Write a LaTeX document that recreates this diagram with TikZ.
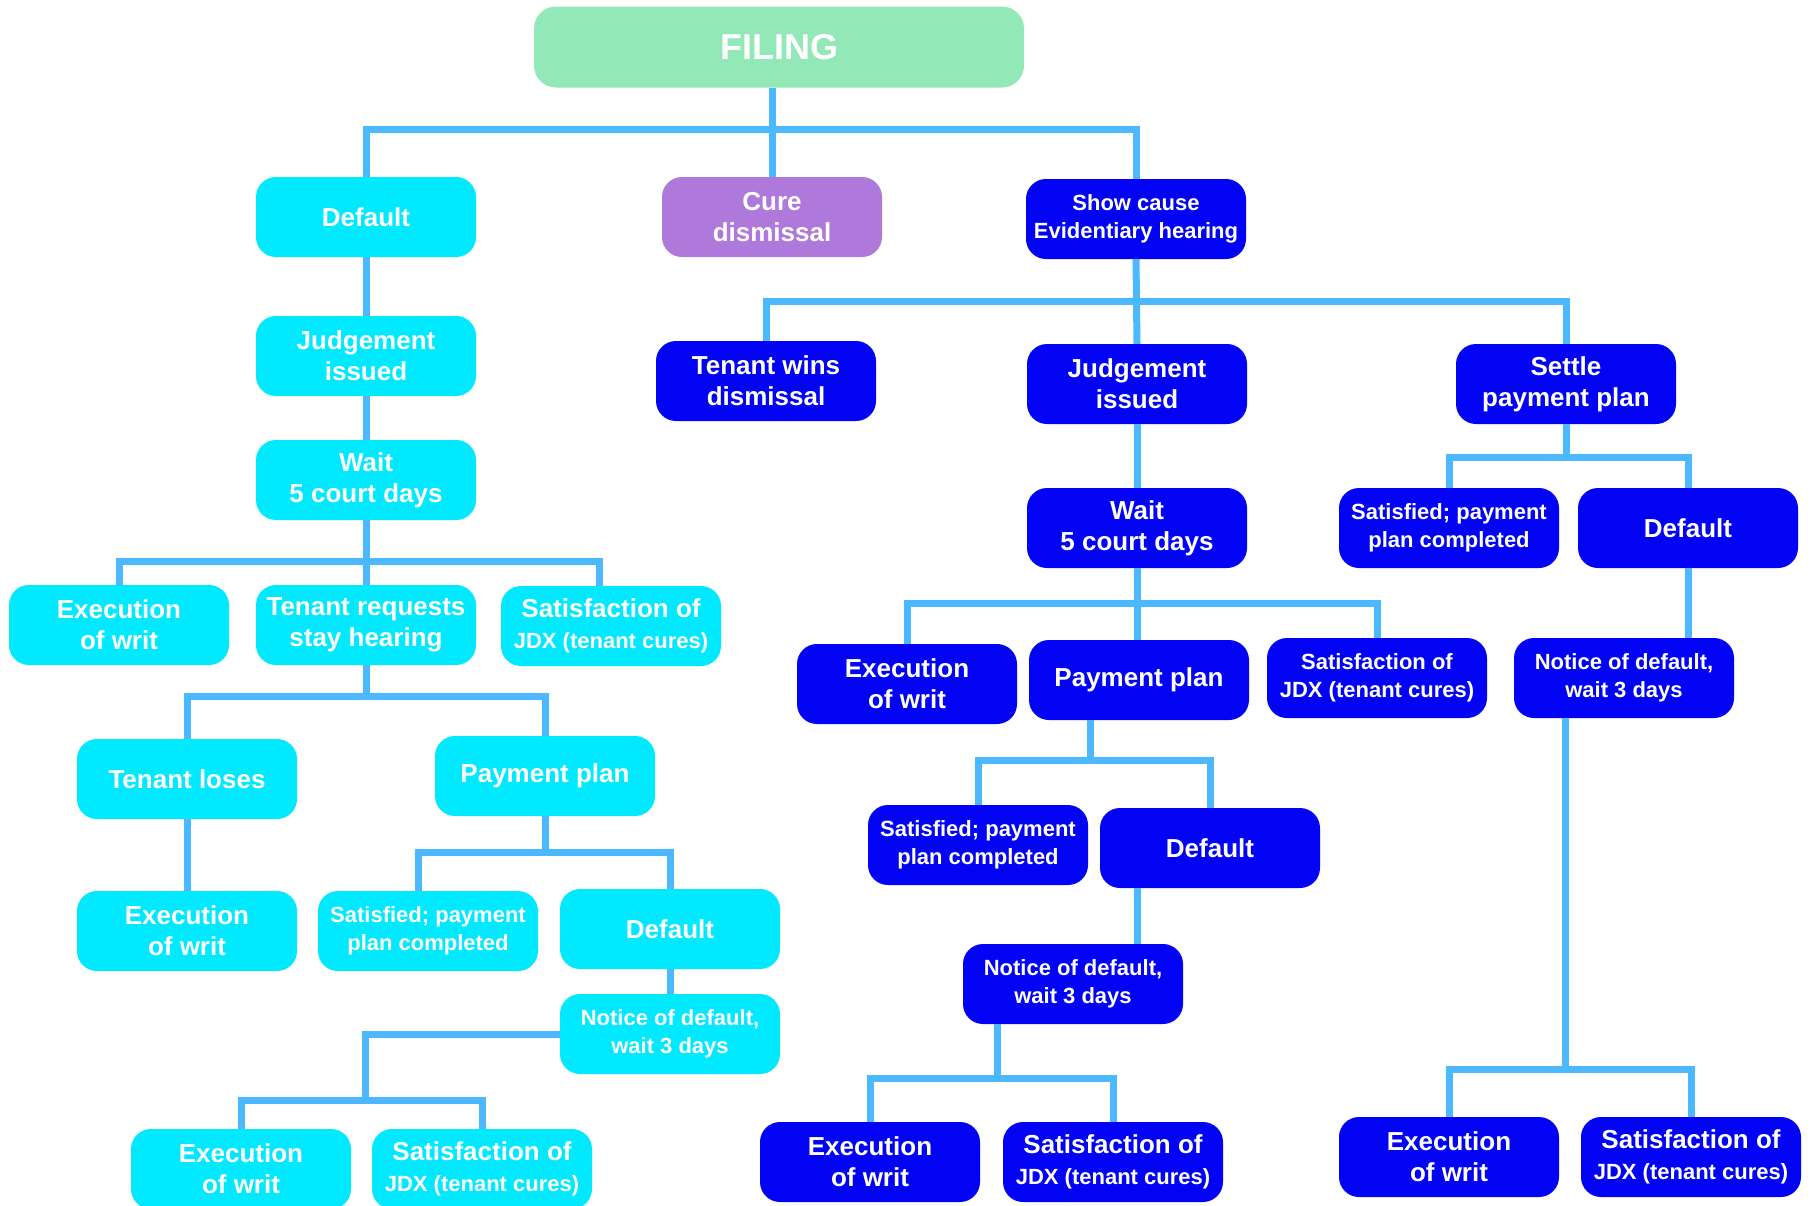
\documentclass[tikz,border=0pt]{standalone}
\usepackage{fontspec}
\setmainfont{Liberation Sans}
\definecolor{tline}{RGB}{76,184,255}
\definecolor{tcyan}{RGB}{0,233,255}
\definecolor{tblue}{RGB}{2,2,245}
\definecolor{tpurple}{RGB}{174,121,218}
\definecolor{tgreen}{RGB}{146,232,182}
\newcommand{\satjdx}{Satisfaction of\\{\fontsize{22pt}{28pt}\selectfont JDX (tenant cures)}}
\begin{document}
\begin{tikzpicture}[x=1pt,y=-1pt,
    box/.style={rounded corners=20pt,minimum width=220pt,minimum height=80pt,inner sep=0pt,
      align=center,text=white,font=\fontsize{26pt}{31pt}\selectfont\bfseries},
    cbox/.style={box,fill=tcyan},
    bbox/.style={box,fill=tblue},
    smalltxt/.style={font=\fontsize{22pt}{28pt}\selectfont\bfseries},
    link/.style={draw=tline,line width=7pt}]
  \clip (0,0) rectangle (1810,1205);
  \fill[white] (0,0) rectangle (1810,1205);

  \node[box,fill=tgreen,minimum width=490pt,minimum height=81pt,rounded corners=22pt,
    font=\fontsize{36pt}{40pt}\selectfont\bfseries] (filing) at (779,47) {FILING};
  \node[cbox] (default) at (366,217) {Default};
  \node[box,fill=tpurple] (cure) at (772,217) {Cure\\dismissal};
  \node[bbox,smalltxt] (show) at (1136,219) {Show cause\\Evidentiary hearing};

  % default branch
  \node[cbox] (judgeL) at (366,356) {Judgement\\issued};
  \node[cbox] (waitL) at (366,480) {Wait\\5 court days};
  \node[cbox] (execL) at (119,625) {Execution\\of writ};
  \node[cbox] (stay) at (366,625) {Tenant requests\\stay hearing};
  \node[cbox] (satL) at (611,626) {\satjdx};
  \node[cbox] (loses) at (187,779) {Tenant loses};
  \node[cbox] (planL) at (545,776) {Payment plan};
  \node[cbox] (execL2) at (187,931) {Execution\\of writ};
  \node[cbox,smalltxt] (doneL) at (428,931) {Satisfied; payment\\plan completed};
  \node[cbox] (defL) at (670,929) {Default};
  \node[cbox,smalltxt] (noticeL) at (670,1034) {Notice of default,\\wait 3 days};
  \node[cbox] (execL3) at (241,1169) {Execution\\of writ};
  \node[cbox] (satL3) at (482,1169) {\satjdx};

  % show cause branch
  \node[bbox] (wins) at (766,381) {Tenant wins\\dismissal};
  \node[bbox] (judgeR) at (1137,384) {Judgement\\issued};
  \node[bbox] (settle) at (1566,384) {Settle\\payment plan};
  \node[bbox] (waitR) at (1137,528) {Wait\\5 court days};
  \node[bbox,smalltxt] (doneR2) at (1449,528) {Satisfied; payment\\plan completed};
  \node[bbox] (defR2) at (1688,528) {Default};
  \node[bbox] (execR) at (907,684) {Execution\\of writ};
  \node[bbox] (planR) at (1139,680) {Payment plan};
  \node[bbox,smalltxt] (satR) at (1377,678) {Satisfaction of\\JDX (tenant cures)};
  \node[bbox,smalltxt] (noticeR2) at (1624,678) {Notice of default,\\wait 3 days};
  \node[bbox,smalltxt] (doneR) at (978,845) {Satisfied; payment\\plan completed};
  \node[bbox] (defR) at (1210,848) {Default};
  \node[bbox,smalltxt] (noticeR) at (1073,984) {Notice of default,\\wait 3 days};
  \node[bbox] (execR3) at (870,1162) {Execution\\of writ};
  \node[bbox] (satR3) at (1113,1162) {\satjdx};
  \node[bbox] (execR4) at (1449,1157) {Execution\\of writ};
  \node[bbox] (satR4) at (1691,1157) {\satjdx};

  \coordinate (b1) at (779,129);
  \coordinate (b2) at (366,561);
  \coordinate (b3) at (366,696);
  \coordinate (b4) at (545,852);
  \coordinate (b5) at (365,1100);
  \coordinate (b6) at (1136,301);
  \coordinate (b7) at (1137,603);
  \coordinate (b8) at (1090,760);
  \coordinate (b9) at (997,1078);
  \coordinate (b10) at (1566,457);
  \coordinate (b11) at (1565,1069);

  \draw[link] (filing.south -| cure.north) -- (cure.north);
  \draw[link] (default.north) |- (b1) -| (show.north);

  \draw[link] (default.south) -- (judgeL.north);
  \draw[link] (judgeL.south) -- (waitL.north);
  \draw[link] (waitL.south) -- (stay.north);
  \draw[link] (execL.north) |- (b2) -| ([xshift=-12pt]satL.north);
  \draw[link] (stay.south) -- (b3);
  \draw[link] (loses.north) |- (b3) -| (planL.north);
  \draw[link] (loses.south) -- (execL2.north);
  \draw[link] (planL.south) -- (b4);
  \draw[link] ([xshift=-10pt]doneL.north) |- (b4) -| (defL.north);
  \draw[link] (defL.south) -- (noticeL.north);
  \draw[link] (noticeL.west) -| (b5);
  \draw[link] (execL3.north) |- (b5) -| (satL3.north);

  \draw[link] (show.south) -- (judgeR.north);
  \draw[link] (wins.north) |- (b6) -| (settle.north);
  \draw[link] (judgeR.south) -- (waitR.north);
  \draw[link] (waitR.south) -- (waitR.south |- planR.north);
  \draw[link] (execR.north) |- (b7) -| (satR.north);
  \draw[link] ([xshift=-49pt]planR.south) -- (b8);
  \draw[link] (doneR.north) |- (b8) -| (defR.north);
  \draw[link] ([xshift=-73pt]defR.south) -- ([xshift=-73pt]defR.south |- noticeR.north);
  \draw[link] ([xshift=-76pt]noticeR.south) -- (b9);
  \draw[link] (execR3.north) |- (b9) -| (satR3.north);
  \draw[link] (settle.south) -- (b10);
  \draw[link] (doneR2.north) |- (b10) -| (defR2.north);
  \draw[link] (defR2.south) -- (defR2.south |- noticeR2.north);
  \draw[link] ([xshift=-59pt]noticeR2.south) -- (b11);
  \draw[link] (execR4.north) |- (b11) -| (satR4.north);
\end{tikzpicture}
\end{document}
